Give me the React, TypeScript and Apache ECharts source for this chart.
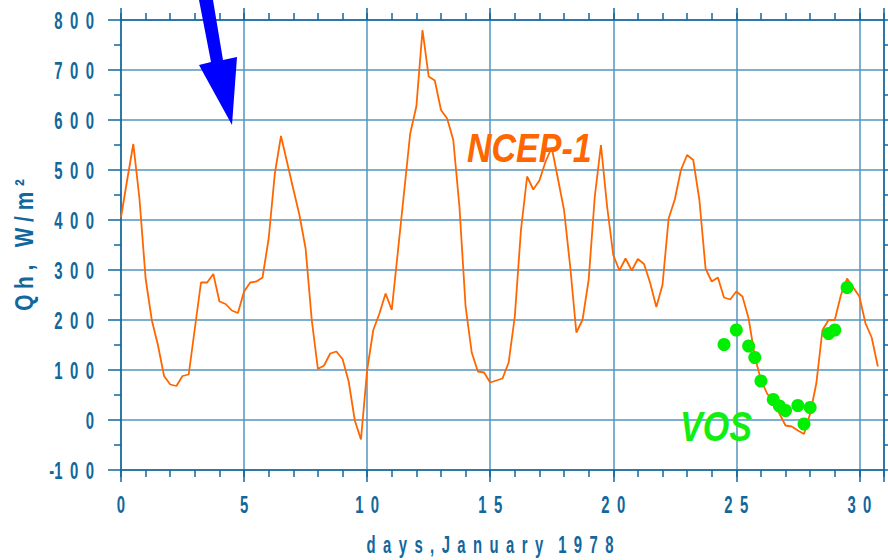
import React, { useEffect, useRef } from "react";
import * as echarts from "echarts";

// NCEP-1 sensible heat flux, 6-hourly, January 1978
const ncepDays = [
  0, 0.25, 0.5, 0.75, 1, 1.25, 1.5, 1.75, 2, 2.25, 2.5, 2.75,
  3, 3.25, 3.5, 3.75, 4, 4.25, 4.5, 4.75, 5, 5.25, 5.5, 5.75,
  6, 6.25, 6.5, 6.75, 7, 7.25, 7.5, 7.75, 8, 8.25, 8.5, 8.75,
  9, 9.25, 9.5, 9.75, 10, 10.25, 10.5, 10.75, 11, 11.25, 11.5, 11.75,
  12, 12.25, 12.5, 12.75, 13, 13.25, 13.5, 13.75, 14, 14.25, 14.5, 14.75,
  15, 15.25, 15.5, 15.75, 16, 16.25, 16.5, 16.75, 17, 17.25, 17.5, 17.75,
  18, 18.25, 18.5, 18.75, 19, 19.25, 19.5, 19.75, 20, 20.25, 20.5, 20.75,
  21, 21.25, 21.5, 21.75, 22, 22.25, 22.5, 22.75, 23, 23.25, 23.5, 23.75,
  24, 24.25, 24.5, 24.75, 25, 25.25, 25.5, 25.75, 26, 26.25, 26.5, 26.75,
  27, 27.25, 27.5, 27.75, 28, 28.25, 28.5, 28.75, 29, 29.25, 29.5, 29.75,
  30, 30.25, 30.5, 30.75,
];
const ncepQh = [
  405, 480, 552, 443, 283, 200, 150, 88, 71, 68, 88, 91,
  183, 275, 275, 292, 237, 232, 219, 214, 257, 275, 277, 285,
  363, 493, 568, 515, 462, 410, 343, 200, 102, 109, 133, 137,
  122, 77, -1, -39, 100, 180, 213, 253, 220, 337, 455, 573,
  627, 780, 687, 679, 620, 603, 560, 427, 227, 135, 97, 95,
  75, 79, 83, 115, 207, 380, 487, 461, 479, 517, 545, 483,
  420, 307, 175, 200, 280, 447, 550, 427, 330, 299, 323, 299,
  322, 312, 274, 226, 270, 403, 441, 500, 530, 520, 440, 303,
  277, 285, 245, 241, 257, 247, 203, 127, 80, 53, 37, 13,
  -11, -13, -21, -28, 13, 73, 180, 200, 200, 250, 283, 265,
  247, 193, 165, 107,
];

// VOS observations
const vosDays = [24.5, 25.0, 25.5, 25.75, 26.0, 26.5, 26.75, 27.0, 27.5, 27.75, 28.0, 28.75, 29.0, 29.5];
const vosQh = [151, 180, 148, 125, 78, 41, 28, 19, 29, -8, 25, 173, 180, 265];

// tick labels
const xTickValues = [0, 5, 10, 15, 20, 25, 30];
const yTickValues = [-100, 0, 100, 200, 300, 400, 500, 600, 700, 800];

const xMin = 0;
const xMax = 31;
const yMin = -100;
const yMax = 800;

const AXIS = "#12679c";
const GRID = "#5595bf";
const LABEL = "#12679c";
const FONT = '"Liberation Sans", Arial, sans-serif';
const EN = "\u2002";

const spaced = (v: number) => {
  const s = String(Math.abs(v)).split("").join(EN);
  return v < 0 ? "-" + s : s;
};

const xTitle = "days,January".split("").join(EN) + EN + EN + "1978".split("").join(EN);
const yTitle = "Q h ,   W / m \u00b2";

export default function App() {
  const ref = useRef<HTMLDivElement>(null);
  useEffect(() => {
    if (!ref.current) return;
    const chart = echarts.init(ref.current, undefined, { renderer: "svg" });
    const gridRect = {
      left: 121,
      top: 20,
      width: 763,
      height: 450,
      containLabel: false,
      outerBoundsMode: "none",
    };
    const tickLine = { color: AXIS, width: 1.5 };
    chart.setOption({
      animation: false,
      backgroundColor: "#ffffff",
      grid: [{ ...gridRect }, { ...gridRect }],
      xAxis: [
        {
          gridIndex: 0,
          type: "value",
          position: "bottom",
          min: xMin,
          max: xMax,
          interval: 5,
          axisLine: { show: true, onZero: false, lineStyle: tickLine },
          axisTick: { show: true, length: 12, lineStyle: tickLine },
          axisLabel: { show: false },
          splitLine: { show: true, lineStyle: { color: GRID, width: 1.5 } },
        },
        {
          gridIndex: 0,
          type: "value",
          position: "top",
          min: xMin,
          max: xMax,
          interval: 1,
          axisLine: { show: true, onZero: false, lineStyle: tickLine },
          axisTick: { show: true, length: 7, lineStyle: tickLine },
          axisLabel: { show: false },
          splitLine: { show: false },
        },
        {
          gridIndex: 1,
          type: "value",
          position: "bottom",
          min: xMin,
          max: xMax,
          interval: 1,
          axisLine: { show: false, onZero: false },
          axisTick: { show: true, length: 7, lineStyle: tickLine },
          axisLabel: { show: false },
          splitLine: { show: false },
        },
        {
          gridIndex: 1,
          type: "value",
          position: "top",
          min: xMin,
          max: xMax,
          interval: 5,
          axisLine: { show: false, onZero: false },
          axisTick: { show: true, length: 12, lineStyle: tickLine },
          axisLabel: { show: false },
          splitLine: { show: false },
        },
      ],
      yAxis: [
        {
          gridIndex: 0,
          type: "value",
          position: "left",
          min: yMin,
          max: yMax,
          interval: 100,
          axisLine: { show: true, onZero: false, lineStyle: tickLine },
          axisTick: { show: true, length: 13, lineStyle: tickLine },
          minorTick: { show: true, splitNumber: 2, length: 7, lineStyle: tickLine },
          axisLabel: { show: false },
          splitLine: { show: true, lineStyle: { color: GRID, width: 1.5 } },
        },
        {
          gridIndex: 1,
          type: "value",
          position: "right",
          min: yMin,
          max: yMax,
          interval: 50,
          axisLine: { show: true, onZero: false, lineStyle: tickLine },
          axisTick: { show: true, length: 8, lineStyle: tickLine },
          axisLabel: { show: false },
          splitLine: { show: false },
        },
      ],
      series: [
        {
          name: "NCEP-1",
          type: "line",
          xAxisIndex: 0,
          yAxisIndex: 0,
          data: ncepDays.map((d, i) => [d, ncepQh[i]]),
          showSymbol: false,
          symbol: "none",
          lineStyle: { color: "#ff6600", width: 1.8 },
          z: 3,
        },
        {
          name: "VOS",
          type: "scatter",
          xAxisIndex: 0,
          yAxisIndex: 0,
          data: vosDays.map((d, i) => [d, vosQh[i]]),
          symbol: "circle",
          symbolSize: 13,
          itemStyle: { color: "#00ee00", opacity: 1 },
          z: 4,
        },
      ],
    });

    // axis texts, positioned through the axes' own scales
    const labelFont = `bold 24px ${FONT}`;
    const els: any[] = [];
    const yAxisX = chart.convertToPixel({ xAxisIndex: 0 }, xMin) as number;
    const xAxisY = chart.convertToPixel({ yAxisIndex: 0 }, yMin) as number;
    yTickValues.forEach((v) => {
      const py = chart.convertToPixel({ yAxisIndex: 0 }, v) as number;
      els.push({
        type: "text",
        x: yAxisX - 27,
        y: py + 1,
        scaleX: 0.62,
        style: {
          text: spaced(v),
          fill: LABEL,
          font: labelFont,
          align: "right",
          verticalAlign: "middle",
        },
      });
    });
    xTickValues.forEach((v) => {
      const px = chart.convertToPixel({ xAxisIndex: 0 }, v) as number;
      els.push({
        type: "text",
        x: px,
        y: xAxisY + 35,
        scaleX: 0.62,
        style: {
          text: spaced(v),
          fill: LABEL,
          font: labelFont,
          align: "center",
          verticalAlign: "middle",
        },
      });
    });
    els.push({
      type: "text",
      x: 490,
      y: xAxisY + 75,
      scaleX: 0.62,
      style: {
        text: xTitle,
        fill: LABEL,
        font: labelFont,
        align: "center",
        verticalAlign: "middle",
      },
    });
    els.push({
      type: "text",
      x: 24,
      y: 245,
      rotation: Math.PI / 2,
      scaleX: 0.8,
      style: {
        text: yTitle,
        fill: LABEL,
        font: `bold 26px ${FONT}`,
        align: "center",
        verticalAlign: "middle",
      },
    });
    // annotations
    els.push({
      type: "polygon",
      shape: {
        points: [
          [199, 0],
          [213, 0],
          [223, 60],
          [237, 57],
          [232, 125],
          [199, 65],
          [211, 62],
        ],
      },
      style: { fill: "#0000ff" },
      z: 10,
    });
    els.push({
      type: "text",
      x: 467,
      y: 148,
      scaleX: 0.85,
      style: {
        text: "NCEP-1",
        fill: "#ff6600",
        font: `italic bold 40px ${FONT}`,
        align: "left",
        verticalAlign: "middle",
      },
      z: 10,
    });
    els.push({
      type: "text",
      x: 680,
      y: 426,
      scaleX: 0.81,
      style: {
        text: "VOS",
        fill: "#11ee11",
        font: `italic bold 42px ${FONT}`,
        align: "left",
        verticalAlign: "middle",
      },
      z: 10,
    });
    chart.setOption({ graphic: els });
    return () => chart.dispose();
  }, []);
  return (
    <div
      ref={ref}
      style={{ position: "fixed", left: 0, top: 0, width: 888, height: 560, background: "#fff" }}
    />
  );
}
